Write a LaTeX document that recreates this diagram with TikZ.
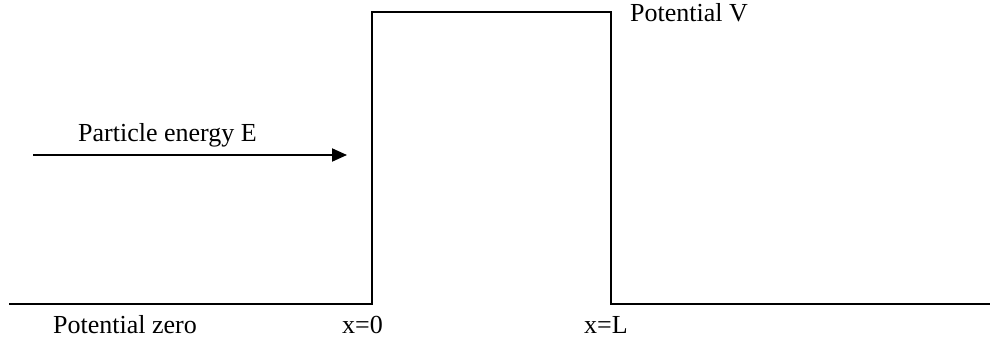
\documentclass[tikz,border=0pt]{standalone}
\usepackage{fontspec}
\setmainfont{Liberation Serif}
\usetikzlibrary{arrows.meta}
\begin{document}
\begin{tikzpicture}[x=1pt,y=-1pt,
  wall/.style={line width=2pt},
  lbl/.style={font=\fontsize{26}{30}\selectfont, inner sep=0pt, anchor=base west}]
\useasboundingbox (0,0) rectangle (992,339);
\coordinate (a) at (9,304);
\coordinate (b) at (372,304);
\coordinate (c) at (372,12);
\coordinate (d) at (611,12);
\coordinate (e) at (611,304);
\coordinate (f) at (990,304);
\draw[wall, line join=miter] (a) -- (b) -- (c) -- (d) -- (e) -- (f);
\coordinate (s) at (33,155);
\coordinate (t) at (347,155);
\draw[wall, -{Triangle[length=15pt,width=13pt]}] (s) -- (t);
\node[lbl] (pe) at (78,142) {Particle energy E};
\node[lbl] (pv) at (630,22) {Potential V};
\node[lbl] (pz) at (53,333) {Potential zero};
\node[lbl] (x0) at (342,333) {x=0};
\node[lbl] (xl) at (584,333) {x=L};
\end{tikzpicture}
\end{document}
